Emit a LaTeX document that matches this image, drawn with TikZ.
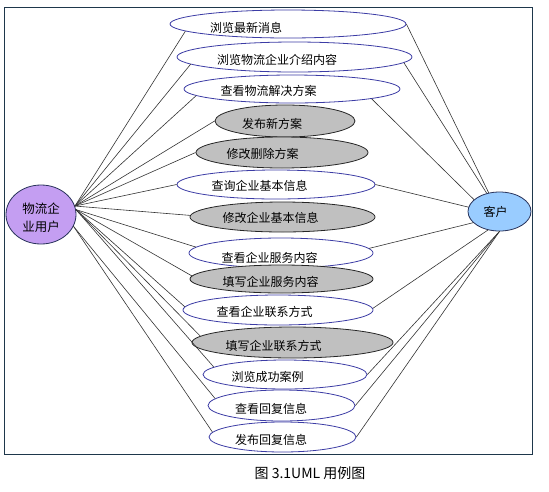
\documentclass[tikz,border=0pt]{standalone}
\usepackage{fontspec}
\newfontfamily\cjk{Noto Sans CJK SC}
\usetikzlibrary{shapes.geometric}

\definecolor{lavender}{RGB}{196,158,242}
\definecolor{skyblu}{RGB}{153,204,255}
\definecolor{ucgray}{RGB}{192,192,192}
\definecolor{ucline}{RGB}{60,60,165}
\definecolor{actline}{RGB}{40,50,90}
\definecolor{frameline}{RGB}{30,55,75}

\begin{document}
\begin{tikzpicture}[
  x=1pt, y=1pt, font=\cjk\fontsize{12}{14}\selectfont,
  uc/.style  ={draw=ucline,ellipse,inner sep=0,line width=0.8pt,fill=white},
  ucg/.style ={uc,draw=black!85,fill=ucgray},
  act/.style ={draw=actline,ellipse,inner sep=0,line width=0.8pt,align=center},
  txt/.style ={inner sep=0,anchor=center},
  ln/.style  ={draw=black!80,line width=0.6pt},
]
\useasboundingbox (0,0) rectangle (549,-491);

% ------------------------------------------------------------ frame
\draw[frameline,line width=1pt] (4,-7) rectangle (532,-454);

% ------------------------------------------------------------ actors
\node[act,fill=lavender,minimum width=70,minimum height=59] (wl) at (41,-214.5) {};
\node[txt,align=center,font=\cjk\fontsize{12.5}{18}\selectfont] (wlt) at (41,-218) {物流企\\业用户};
\node[act,fill=skyblu,minimum width=63,minimum height=39] (kh) at (499.5,-211.5) {};
\node[txt] (kht) at (495.5,-211.5) {客户};

% ------------------------------------------------------------ use cases
% centre x/y, width, height, style, text x/y, text
\foreach \n/\cx/\cy/\w/\h/\s/\tx/\ty/\t in {
   1/288/-24/236/28/uc/246/-27.5/浏览最新消息,
   2/294.5/-57/235/30/uc/277/-60/浏览物流企业介绍内容,
   3/292/-89/216/28/uc/268.5/-91/查看物流解决方案,
   4/285/-121/140/32/ucg/272/-124/发布新方案,
   5/282/-152.5/172/31/ucg/262.5/-154/修改删除方案,
   6/276/-184.5/198/29/uc/259.5/-186/查询企业基本信息,
   7/282.5/-217/185/30/ucg/270.5/-217.5/修改企业基本信息,
   8/281/-253/184/30/uc/269.5/-257.5/查看企业服务内容,
   9/281.5/-279/183/28/ucg/270.5/-281.5/填写企业服务内容,
  10/278/-310/190/30/uc/264.5/-312/查看企业联系方式,
  11/292.5/-342.5/201/31/ucg/273.5/-346/填写企业联系方式,
  12/285/-374.5/164/29/uc/267.5/-376.5/浏览成功案例,
  13/281.5/-405.5/147/31/uc/271/-409/查看回复信息,
  14/282.5/-437/147/30/uc/271/-440/发布回复信息} {
  \node[\s,minimum width=\w,minimum height=\h] (uc\n) at (\cx,\cy) {};
  \node[txt] (t\n) at (\tx,\ty) {\t};
}

% ------------------------------------------------------------ associations
% 物流企业用户 -- every use case
\foreach \n/\a/\b in {1/14/184, 2/14/184, 3/14/184, 4/14/180, 5/14/180,
                      6/14/180, 7/14/179, 8/8/176, 9/8/178, 10/8/178,
                      11/8/176, 12/8/174, 13/340/174, 14/340/176}
  \draw[ln] (wl.\a) -- (uc\n.\b);
% 客户 -- the browsing / viewing use cases
\foreach \n/\a/\b in {1/0/120, 2/357/125, 3/353/155, 6/0/172, 8/3/203,
                      10/1/238, 12/0/270, 13/0/270, 14/0/270}
  \draw[ln] (uc\n.\a) -- (kh.\b);

% ------------------------------------------------------------ caption
\node[txt,font=\cjk\fontsize{14}{16}\selectfont] (cap) at (310,-473) {图 3.1UML 用例图};

\end{tikzpicture}
\end{document}
